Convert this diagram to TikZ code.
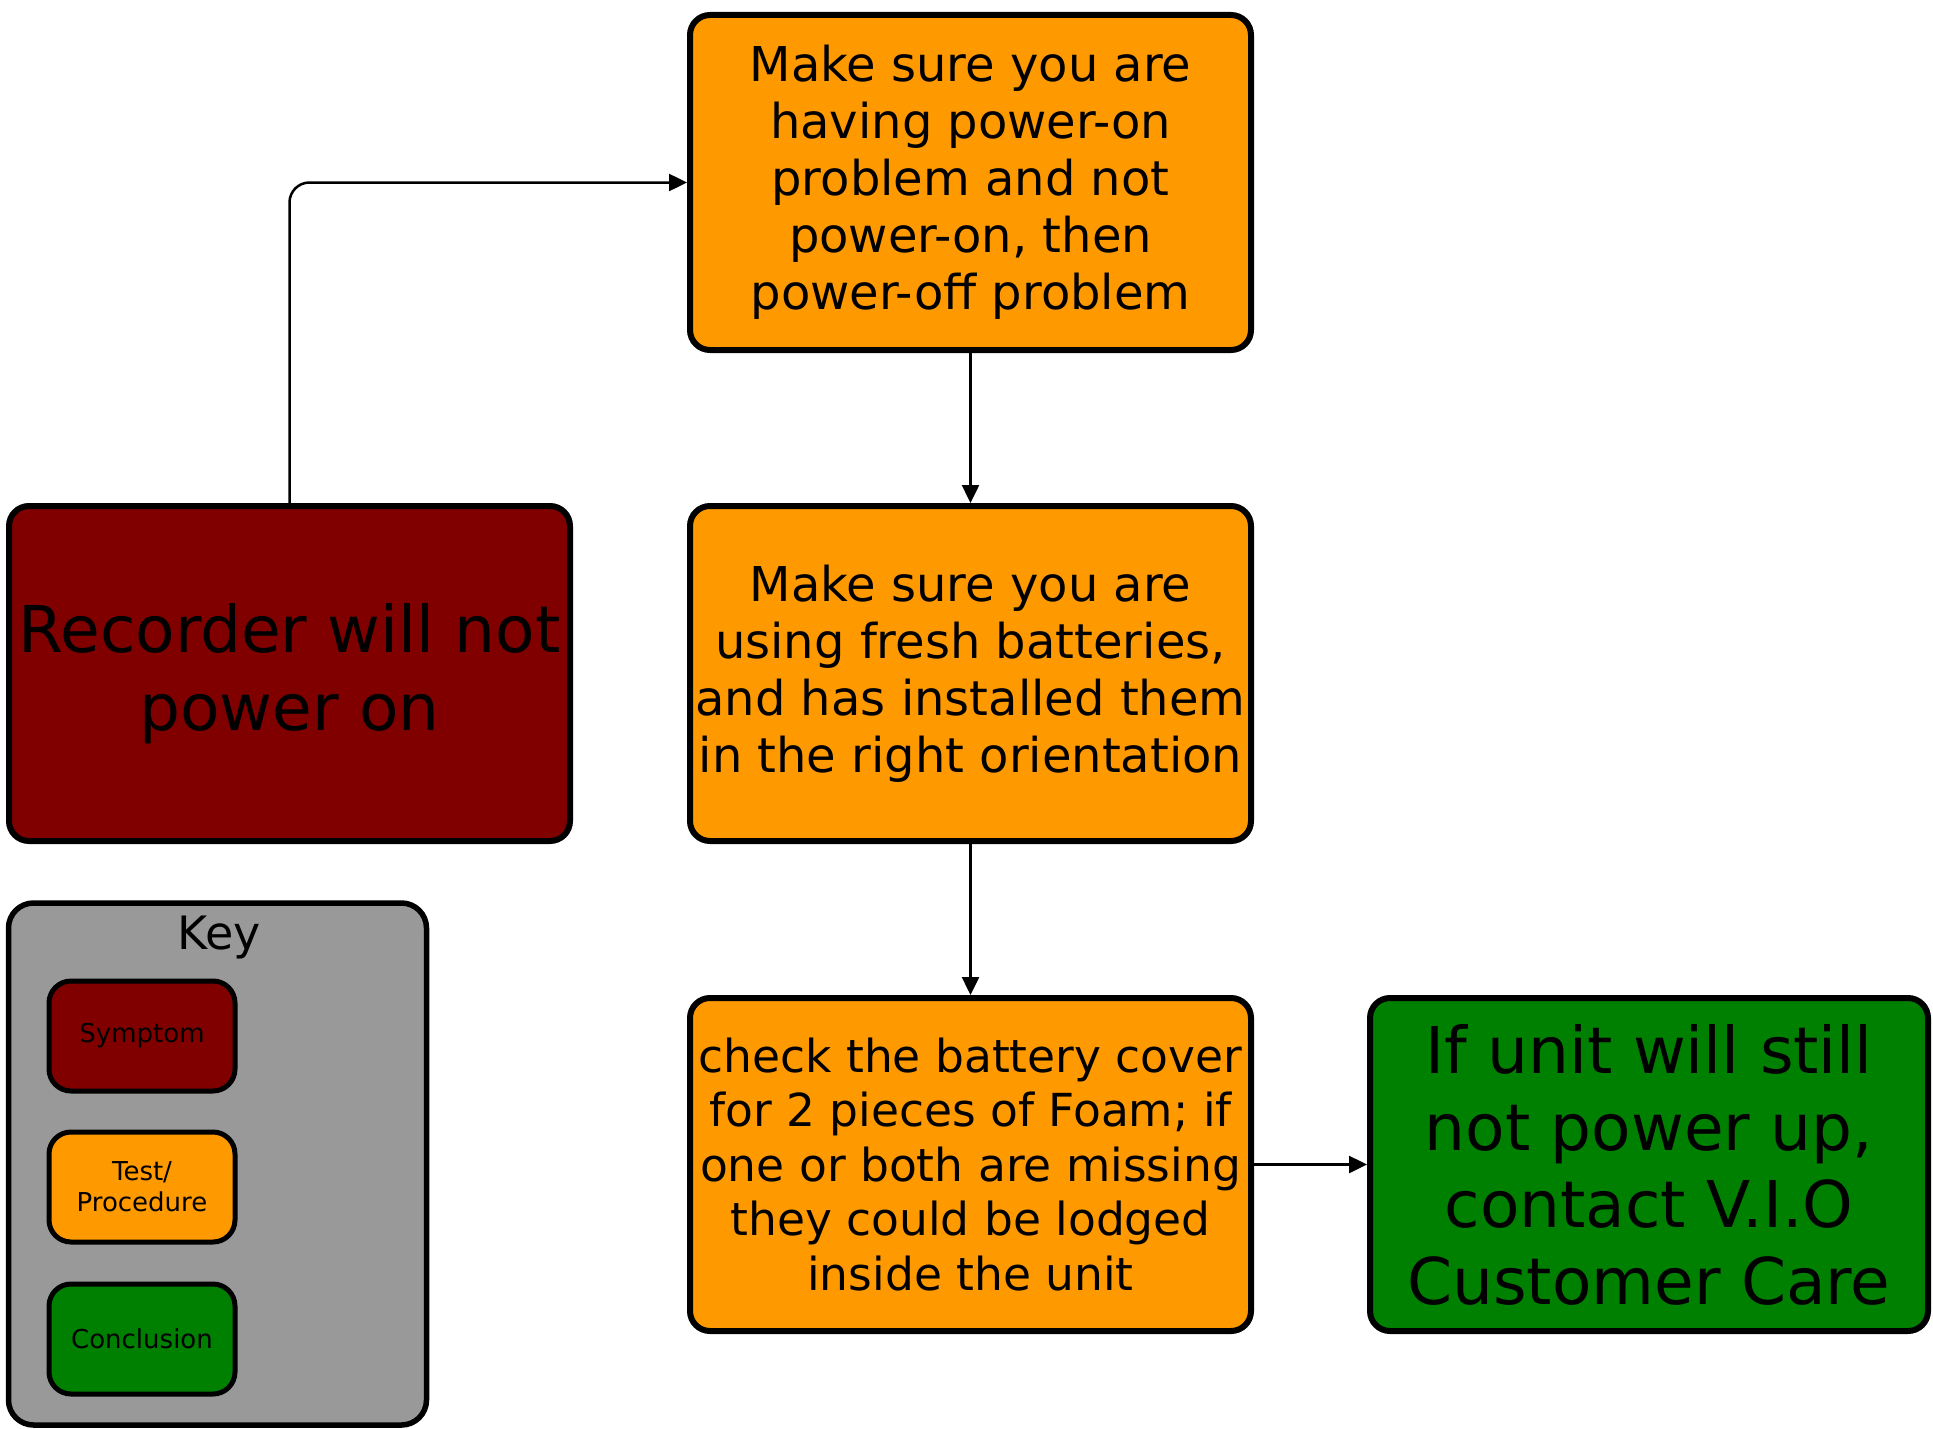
\documentclass[tikz,border=0pt]{standalone}
\usepackage{fontspec}
\setmainfont{DejaVu Sans}
\usetikzlibrary{arrows.meta}
\definecolor{symred}{HTML}{800000}
\definecolor{testorange}{HTML}{FF9900}
\definecolor{concgreen}{HTML}{008000}
\definecolor{keygray}{HTML}{999999}
\begin{document}
\begin{tikzpicture}[x=1pt,y=-1pt,
  box/.style={draw=black, line width=6pt, rounded corners=20pt, align=center, inner sep=0pt, text=black},
  bigbox/.style={box, minimum width=561pt, minimum height=335pt},
  testbox/.style={bigbox, fill=testorange, font=\fontsize{48}{57}\selectfont},
  keybox/.style={box, line width=5pt, rounded corners=22pt, minimum width=186pt, minimum height=110pt, font=\fontsize{26}{31}\selectfont},
  conn/.style={draw=black, line width=2.5pt, -{Triangle[length=18pt,width=17pt]}}
]
\useasboundingbox (0,0) rectangle (1933,1429);
% key
\node[box, fill=keygray, line width=5.5pt, rounded corners=25pt, minimum width=418pt, minimum height=522pt] (key) at (217.5,1164) {};
\node[font=\fontsize{46}{55}\selectfont, inner sep=0pt] (keylabel) at (219,938) {Key};
\node[keybox, fill=symred] (ksym) at (142,1036) {Symptom};
\node[keybox, fill=testorange] (ktest) at (142,1187) {Test/\\Procedure};
\node[keybox, fill=concgreen] (kconc) at (142,1339) {Conclusion};
% main boxes
\node[bigbox, fill=symred, font=\fontsize{64.5}{78}\selectfont] (red) at (289.5,673.5) {Recorder will not\\power on};
\node[testbox] (b1) at (970.5,182.5) {Make sure you are\\having power-on\\problem and not\\power-on, then\\power-off problem};
\node[testbox] (b2) at (970.5,673.5) {Make sure you are\\using fresh batteries,\\and has installed them\\in the right orientation};
\node[testbox, minimum height=333pt, font=\fontsize{45.5}{54.5}\selectfont] (b3) at (970.5,1164.5) {check the battery cover\\for 2 pieces of Foam; if\\one or both are missing\\they could be lodged\\inside the unit};
\node[box, fill=concgreen, minimum width=558pt, minimum height=333pt, font=\fontsize{64.5}{77}\selectfont] (green) at (1649,1164.5) {If unit will still\\not power up,\\contact V.I.O\\Customer Care};
% connectors
\draw[conn, rounded corners=20pt] (red.north) |- (b1.west);
\draw[conn] (b1.south) -- (b2.north);
\draw[conn] (b2.south) -- (b3.north);
\draw[conn] (b3.east) -- (green.west);
\end{tikzpicture}
\end{document}
